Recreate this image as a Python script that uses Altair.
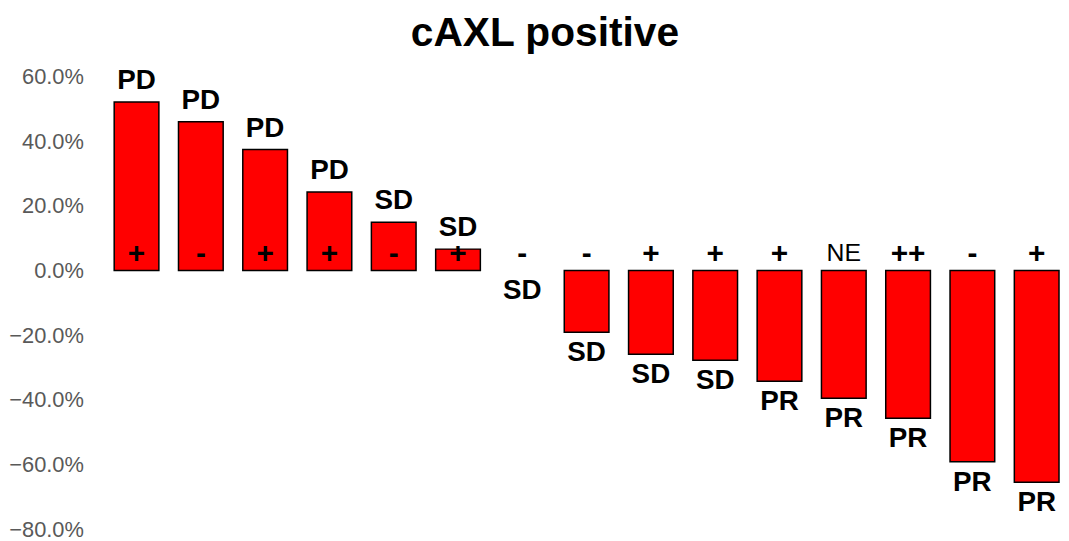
import altair as alt
import pandas as pd

patients = list(range(1, 16))
change_pct = [52.1, 46.0, 37.4, 24.3, 14.9, 6.6, 0.0, -19.1, -25.9, -27.8,
              -34.3, -39.5, -45.7, -59.2, -65.5]
response = ["PD", "PD", "PD", "PD", "SD", "SD", "SD", "SD", "SD", "SD",
            "PR", "PR", "PR", "PR", "PR"]
marker = ["+", "-", "+", "+", "-", "+", "-", "-", "+", "+", "+", "NE", "++", "-", "+"]
y_ticks = [-0.8, -0.6, -0.4, -0.2, 0.0, 0.2, 0.4, 0.6]

df = pd.DataFrame({
    "patient": patients,
    "value": [v / 100 for v in change_pct],
    "response": response,
    "marker": marker,
})
df["zero"] = 0.0

FONT = "Liberation Sans"

x = alt.X("patient:O", axis=None,
          scale=alt.Scale(paddingInner=0.305, paddingOuter=0))
yscale = alt.Scale(domain=[-0.8, 0.6], nice=False, zero=False)
y = alt.Y("value:Q", scale=yscale,
          axis=alt.Axis(values=y_ticks, format=".1%", title=None, grid=False,
                        domain=False, ticks=False, labelPadding=31,
                        labelFontSize=22, labelColor="#595959", labelFont=FONT))

base = alt.Chart(df)

bars = base.transform_filter("datum.value != 0").mark_bar(
    color="#FF0000", stroke="black", strokeWidth=1.5
).encode(x=x, y=y)

resp_pos = base.transform_filter("datum.value > 0").mark_text(
    dy=-21, baseline="middle", fontSize=28, fontWeight="bold", font=FONT, color="black"
).encode(x=x, y=alt.Y("value:Q", scale=yscale), text="response:N")

resp_neg = base.transform_filter("datum.value <= 0").mark_text(
    dy=21, baseline="middle", fontSize=28, fontWeight="bold", font=FONT, color="black"
).encode(x=x, y=alt.Y("value:Q", scale=yscale), text="response:N")

signs = base.transform_filter("datum.marker != 'NE'").mark_text(
    dy=-17, baseline="middle", fontSize=30, fontWeight="bold", font=FONT, color="black"
).encode(x=x, y=alt.Y("zero:Q", scale=yscale), text="marker:N")

signs_ne = base.transform_filter("datum.marker == 'NE'").mark_text(
    dy=-18, baseline="middle", fontSize=25, font=FONT, color="black"
).encode(x=x, y=alt.Y("zero:Q", scale=yscale), text="marker:N")

chart = alt.layer(bars, resp_pos, resp_neg, signs, signs_ne).properties(
    width=952, height=456,
    title=alt.TitleParams("cAXL positive", fontSize=41, fontWeight="bold",
                          font=FONT, color="black", anchor="middle",
                          dx=-42, offset=11),
    autosize=alt.AutoSizeParams(type="none"),
    padding={"left": 107, "top": 67, "right": 2, "bottom": 10},
).configure_view(stroke=None)

chart.save("out.html", embed_options={"renderer": "svg", "actions": False})
